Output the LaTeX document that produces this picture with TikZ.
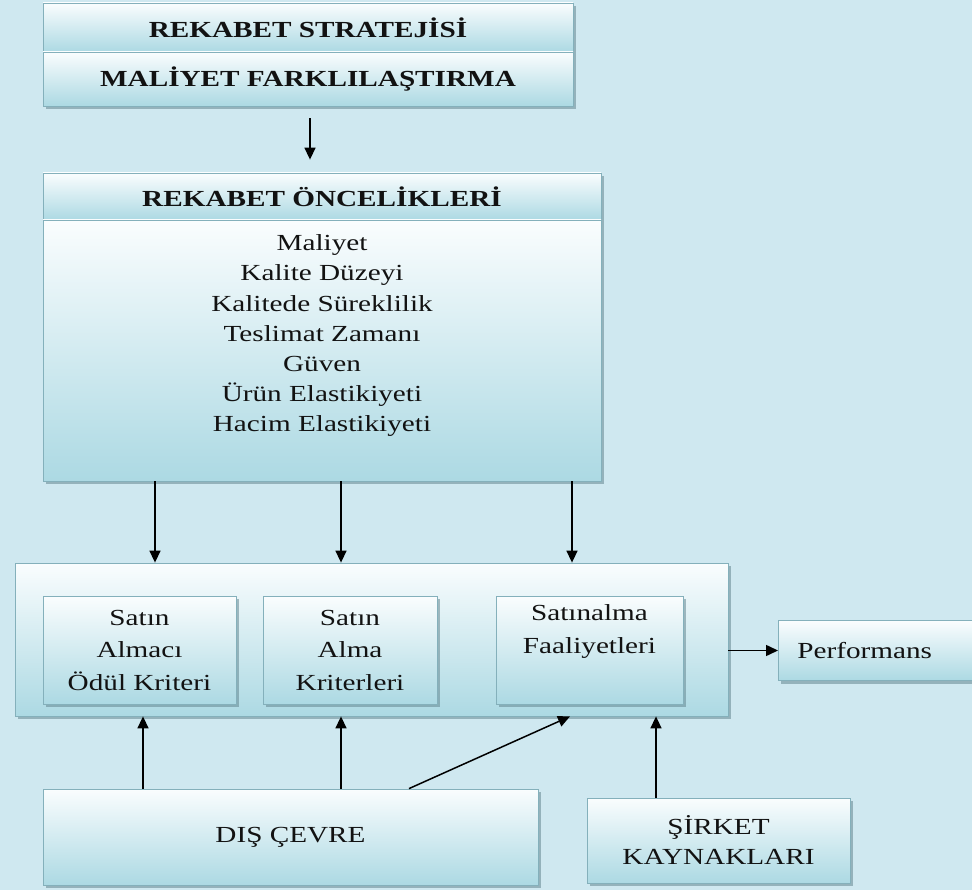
\documentclass[tikz,border=0pt]{standalone}
\usepackage{fontspec}
\setmainfont[FakeStretch=1.27]{Liberation Serif}
\usetikzlibrary{arrows.meta,shadows}

\definecolor{bg}{RGB}{207,232,240}
\definecolor{boxtop}{RGB}{250,253,254}
\definecolor{boxbot}{RGB}{172,217,227}
\definecolor{edge}{RGB}{132,176,187}
\definecolor{shade}{RGB}{100,135,145}
\definecolor{ink}{RGB}{18,18,18}

\tikzset{
  box/.style={draw=edge, line width=0.8pt, top color=boxtop, bottom color=boxbot,
    drop shadow={shadow xshift=2.5pt, shadow yshift=-3pt, fill=shade, opacity=0.55},
    inner sep=0pt, text=ink, align=center, font=\fontsize{23}{30}\selectfont},
  head/.style={font=\fontsize{23}{30}\selectfont\bfseries},
  listtxt/.style={inner sep=0pt, text=ink, align=center, font=\fontsize{23}{30.2}\selectfont},
  inner/.style={box, minimum height=108pt, font=\fontsize{23}{32.5}\selectfont},
  arr/.style={draw=black, line width=1.5pt, -{Triangle[length=12pt,width=11pt]}}
}

\begin{document}
\begin{tikzpicture}[x=1pt,y=-1pt]
  \path[use as bounding box] (0,0) rectangle (972,890);
  \fill[bg] (0,0) rectangle (972,890);
  \clip (0,0) rectangle (972,890);

  % strategy block
  \node[box, head, minimum width=530pt, minimum height=49pt] (strat) at (308,27.5) {REKABET STRATEJİSİ};
  \node[box, head, minimum width=530pt, minimum height=54pt] (maliyet) at (308,79) {MALİYET FARKLILAŞTIRMA};

  % competitive priorities
  \node[box, head, minimum width=558pt, minimum height=47pt] (prioh) at (322,196.5) {REKABET ÖNCELİKLERİ};
  \node[box, minimum width=558pt, minimum height=261pt] (priob) at (322,350.5) {};
  \node[listtxt, anchor=north] (priolist) at ([yshift=-15pt]priob.north)
    {Maliyet\\Kalite Düzeyi\\Kalitede Süreklilik\\Teslimat Zamanı\\Güven\\Ürün Elastikiyeti\\Hacim Elastikiyeti};

  \coordinate (t1) at ([xshift=2pt,yshift=-12pt]maliyet.south);
  \coordinate (t2) at ([yshift=13pt]prioh.north);
  \draw[arr] (t1) -- (t1 |- t2);

  % purchasing container and its parts
  \node[box, minimum width=713pt, minimum height=153pt] (cont) at (371.5,639.5) {};
  \node[inner, minimum width=193pt] (in1) at (139.5,650) {Satın\\Almacı\\Ödül Kriteri};
  \node[inner, minimum width=174pt] (in2) at (350,650) {Satın\\Alma\\Kriterleri};
  \node[inner, minimum width=187pt] (in3) at (589.5,650) {Satınalma\\Faaliyetleri\\\strut};

  % performance
  \node[box, anchor=west, minimum width=215pt, minimum height=60pt, inner xsep=19pt,
        text width=177pt, align=left] (perf) at (778,650.5) {Performans};
  \draw[arr] (cont.east |- perf.west) -- (perf.west);

  % external environment and company resources
  \node[box, minimum width=495pt, minimum height=96pt] (dis) at (290.5,837) {DIŞ ÇEVRE};
  \node[box, minimum width=263pt, minimum height=85pt] (sirket) at (718.5,840.5) {ŞİRKET\\KAYNAKLARI};

  % priorities feed the purchasing block
  \coordinate (d1) at ([xshift=-167pt]priob.south);
  \coordinate (d2) at ([xshift=19pt]priob.south);
  \coordinate (d3) at ([xshift=250pt]priob.south);
  \draw[arr] (d1) -- (d1 |- cont.north);
  \draw[arr] (d2) -- (d2 |- cont.north);
  \draw[arr] (d3) -- (d3 |- cont.north);

  % environment and resources feed the purchasing block
  \coordinate (u1) at ([xshift=-147.5pt]dis.north);
  \coordinate (u2) at ([xshift=50.5pt]dis.north);
  \coordinate (u3) at ([xshift=118.5pt]dis.north);
  \coordinate (u3end) at ([xshift=198.5pt]cont.south);
  \coordinate (u4) at ([xshift=-62.5pt]sirket.north);
  \draw[arr] (u1) -- (u1 |- cont.south);
  \draw[arr] (u2) -- (u2 |- cont.south);
  \draw[arr] (u3) -- (u3end);
  \draw[arr] (u4) -- (u4 |- cont.south);
\end{tikzpicture}
\end{document}
